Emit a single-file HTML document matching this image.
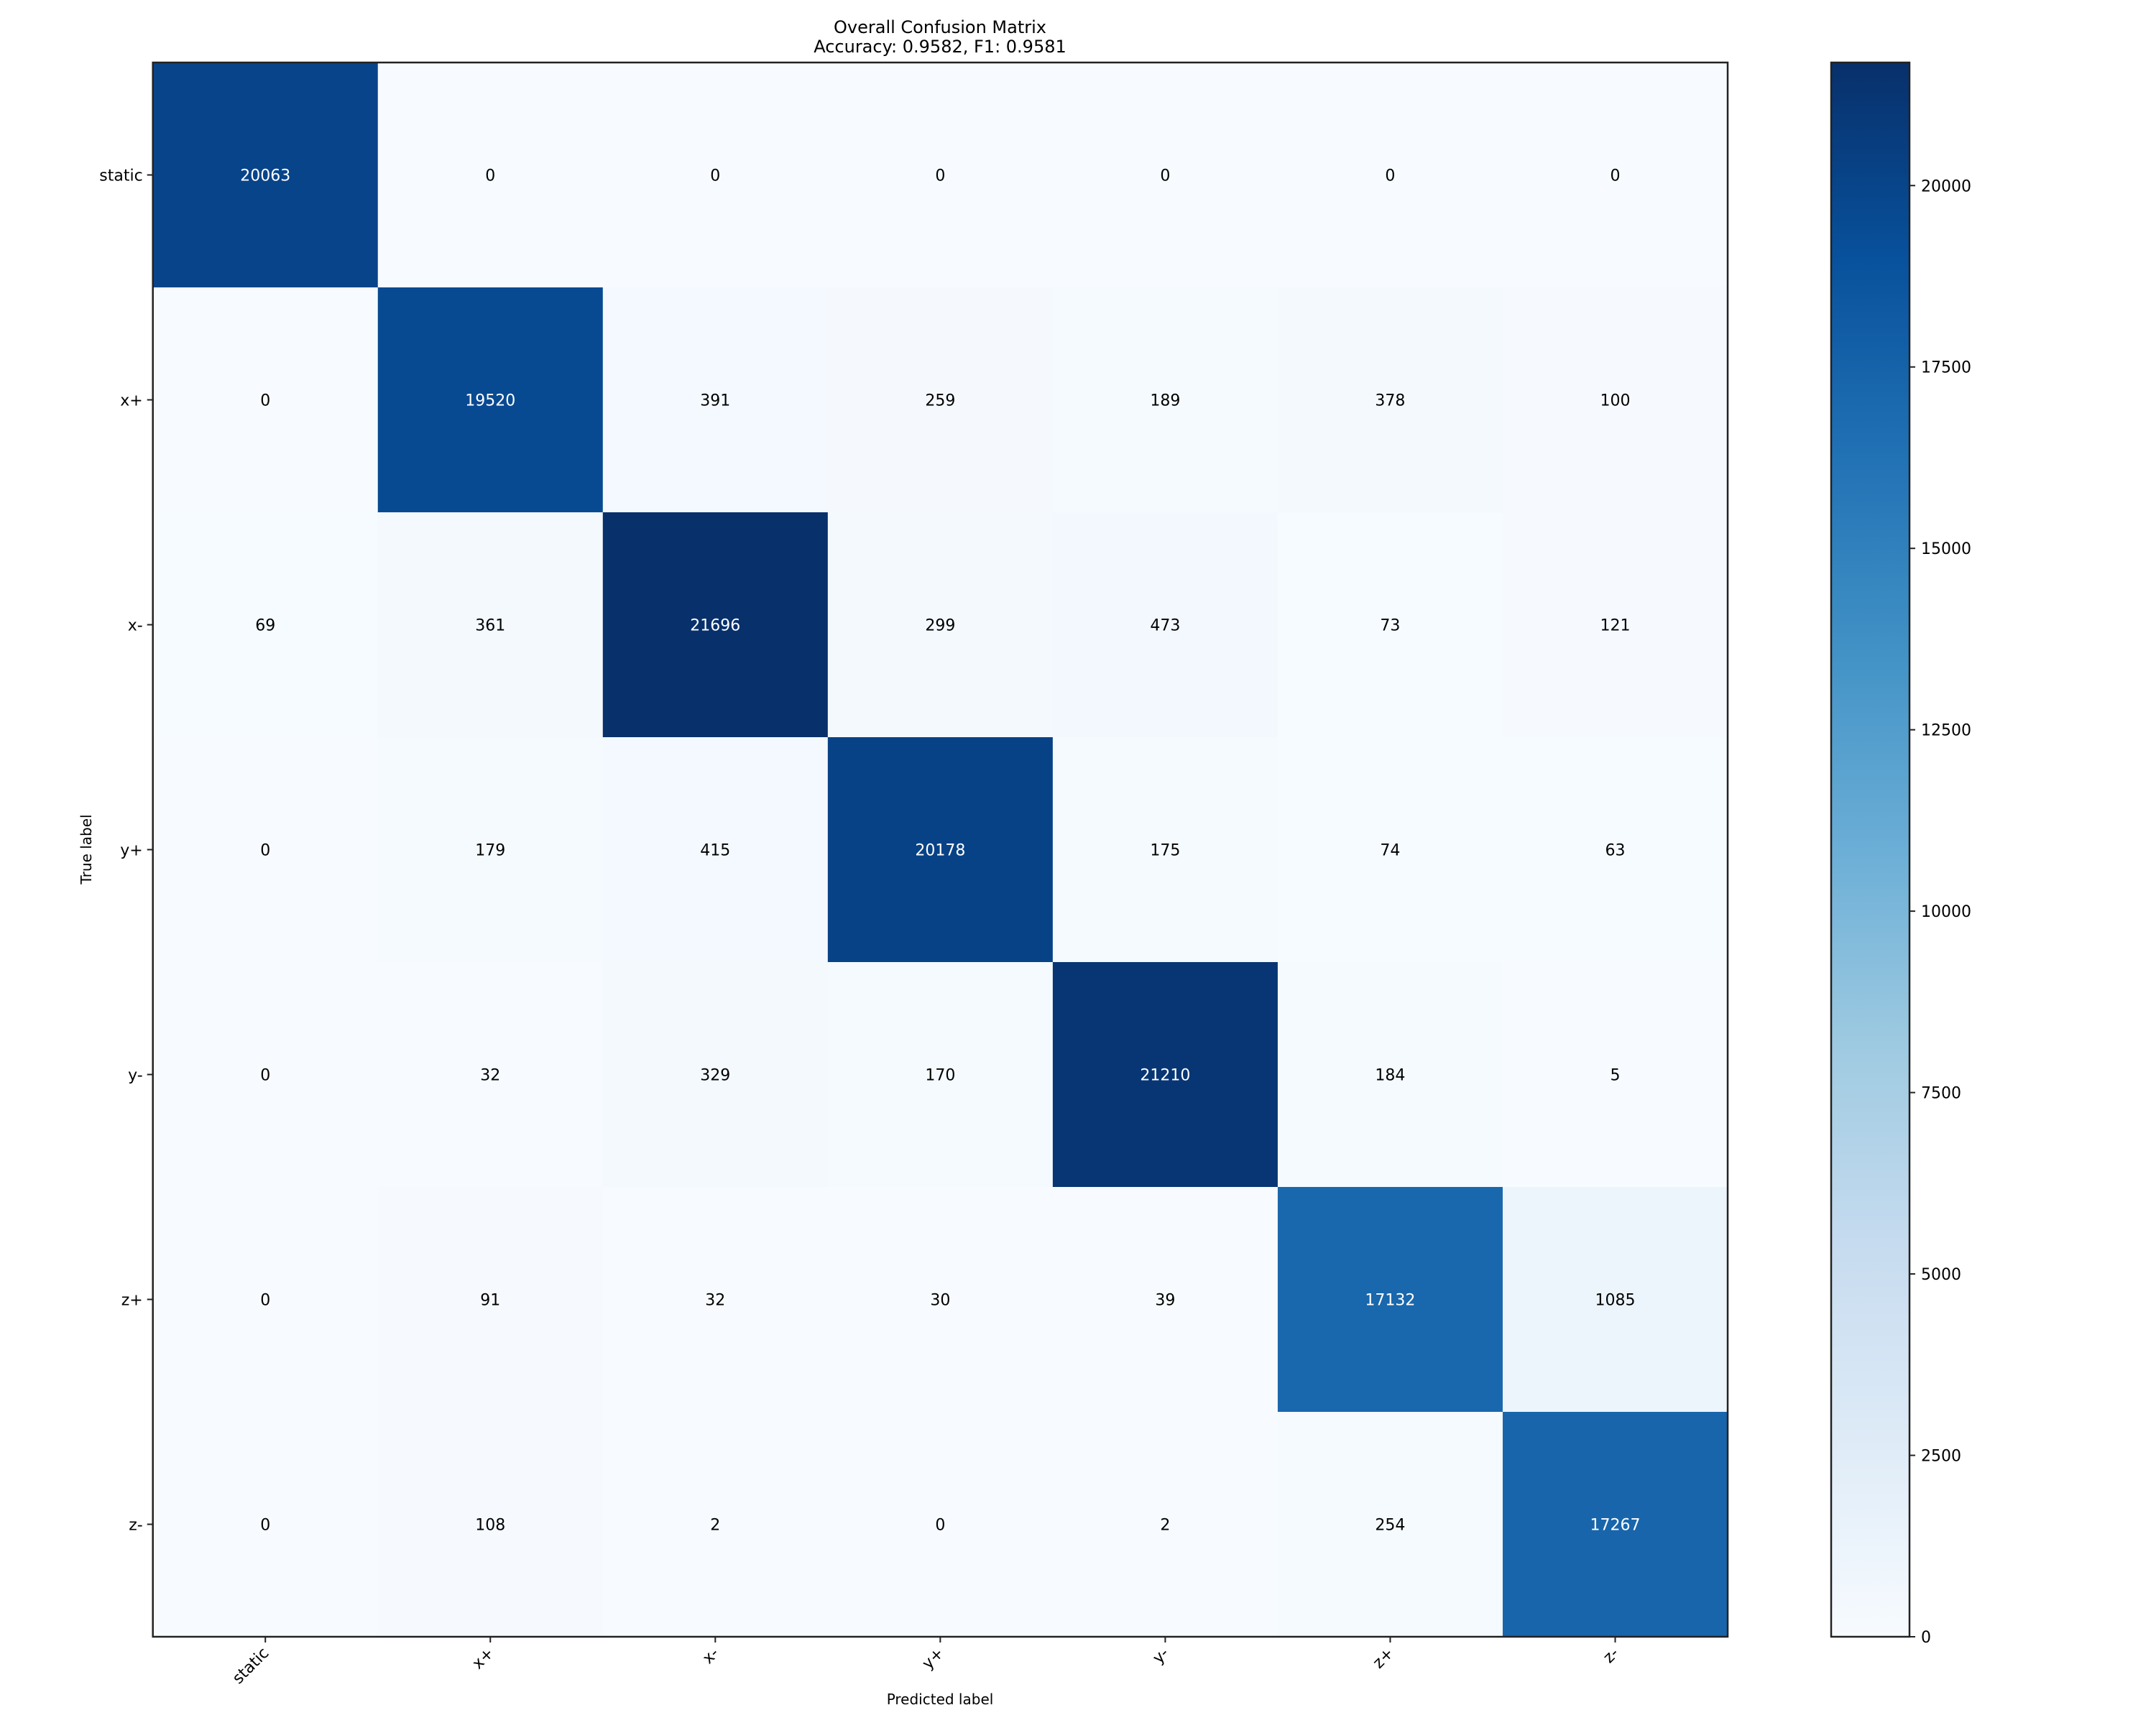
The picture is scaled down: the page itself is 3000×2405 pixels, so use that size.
<!DOCTYPE html>
<html><head><meta charset="utf-8"><style>
html,body{margin:0;padding:0;background:#fff;}
svg text{font-family:"DejaVu Sans","Liberation Sans",sans-serif;}
</style></head><body>
<svg id="chart" width="3000" height="2400" xmlns="http://www.w3.org/2000/svg">
<rect width="3000" height="2400" fill="#fff"/>
<text x="1308" y="46" font-size="24" text-anchor="middle">Overall Confusion Matrix</text>
<text x="1308" y="73" font-size="24" text-anchor="middle">Accuracy: 0.9582, F1: 0.9581</text>
<g id="cells"></g>
<g id="ticks"></g>
<text x="1308" y="2372" font-size="20" text-anchor="middle">Predicted label</text>
<text transform="translate(127,1182) rotate(-90)" font-size="20" text-anchor="middle">True label</text>
<defs><linearGradient id="cbgrad" x1="0" y1="1" x2="0" y2="0">
<stop offset="0" stop-color="#f7fbff"/><stop offset="0.125" stop-color="#deebf7"/><stop offset="0.25" stop-color="#c6dbef"/><stop offset="0.375" stop-color="#9ecae1"/><stop offset="0.5" stop-color="#6baed6"/><stop offset="0.625" stop-color="#4292c6"/><stop offset="0.75" stop-color="#2171b5"/><stop offset="0.875" stop-color="#08519c"/><stop offset="1" stop-color="#08306b"/>
</linearGradient></defs>
<rect x="2548" y="87" width="109" height="2191" fill="url(#cbgrad)" stroke="#222" stroke-width="2.5"/>
<g id="cbticks"></g>
</svg>
<script>
const labels = ["static","x+","x-","y+","y-","z+","z-"];
const matrix = [
 [20063,0,0,0,0,0,0],
 [0,19520,391,259,189,378,100],
 [69,361,21696,299,473,73,121],
 [0,179,415,20178,175,74,63],
 [0,32,329,170,21210,184,5],
 [0,91,32,30,39,17132,1085],
 [0,108,2,0,2,254,17267]
];
const cbTicks = [0,2500,5000,7500,10000,12500,15000,17500,20000];
const vmax = 21696;

const X0=212.7, X1=2404, Y0=87, Y1=2278;
const cw=(X1-X0)/labels.length, ch=(Y1-Y0)/labels.length;
const xPos=i=>X0+i*cw, yPos=i=>Y0+i*ch;
const cbY=v=>Y1-(v/vmax)*(Y1-Y0);
const stops=["#f7fbff","#deebf7","#c6dbef","#9ecae1","#6baed6","#4292c6","#2171b5","#08519c","#08306b"].map(h=>[parseInt(h.substr(1,2),16),parseInt(h.substr(3,2),16),parseInt(h.substr(5,2),16)]);
function color(v){let t=Math.max(0,Math.min(1,v/vmax))*8;let i=Math.min(7,Math.floor(t)),f=t-i;const a=stops[i],b=stops[i+1];return `rgb(${a.map((c,k)=>Math.round(c+(b[k]-c)*f)).join(',')})`;}
const NS="http://www.w3.org/2000/svg";
function mk(tag,attrs,parent){const e=document.createElementNS(NS,tag);for(const k in attrs)e.setAttribute(k,attrs[k]);parent.appendChild(e);return e;}
const cells=document.getElementById('cells'), ticks=document.getElementById('ticks'), cbt=document.getElementById('cbticks');
matrix.forEach((row,r)=>row.forEach((v,c)=>{
  const rc=mk('rect',{x:xPos(c),y:yPos(r),width:cw+0.5,height:ch+0.5,fill:color(v)},cells);
  
  
  const t=mk('text',{x:xPos(c)+cw/2,y:yPos(r)+ch/2+8,'font-size':22,'text-anchor':'middle',fill:v>vmax/2?'#fff':'#000'},cells);
  
  
  t.textContent=v;
}));
const fr=mk('rect',{x:X0,y:Y0,width:X1-X0,height:Y1-Y0,fill:'none',stroke:'#222','stroke-width':2.5},cells);


labels.forEach((l,i)=>{
  const cx=xPos(i)+cw/2, cy=yPos(i)+ch/2;
  mk('line',{x1:cx,x2:cx,y1:Y1,y2:Y1+8,stroke:'#222','stroke-width':2},ticks);
  const xt=mk('text',{transform:`translate(${cx+6},${Y1+24}) rotate(-45)`,'font-size':22,'text-anchor':'end'},ticks);
  
  
  xt.textContent=l;
  mk('line',{x1:X0-8,x2:X0,y1:cy,y2:cy,stroke:'#222','stroke-width':2},ticks);
  const yt=mk('text',{x:X0-14,y:cy+8,'font-size':22,'text-anchor':'end'},ticks);
  
  
  yt.textContent=l;
});
cbTicks.forEach(v=>{
  const y=cbY(v);
  mk('line',{x1:2657,x2:2665,y1:y,y2:y,stroke:'#222','stroke-width':2},cbt);
  const t=mk('text',{x:2673,y:y+8,'font-size':22},cbt);
  
  
  t.textContent=v;
});
</script>
</body></html>
